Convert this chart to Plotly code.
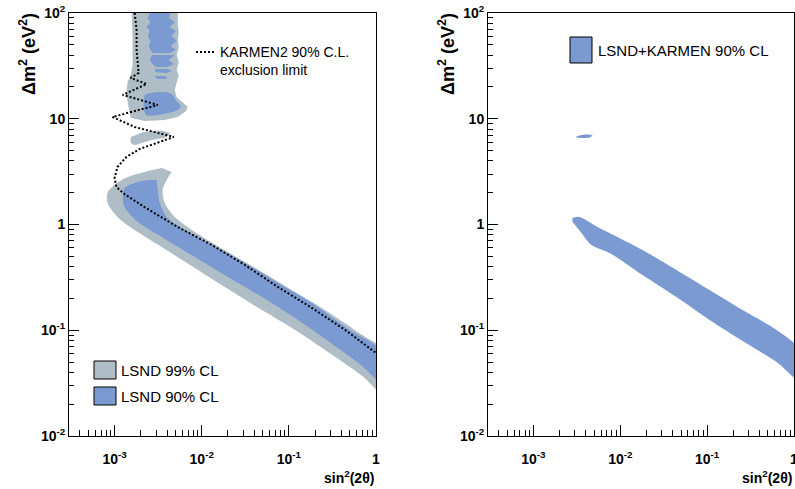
import plotly.graph_objects as go

W, H = 795, 489
GRAY = "#AFBDC7"
BLUE = "#7A9AD1"
FONT = "Liberation Sans"

# ---------------- LSND 99% CL allowed region (sin^2(2θ), Δm^2 [eV^2]) ----------------
lsnd99_upper_sin2 = [1.57e-3, 1.61e-3, 1.61e-3, 1.53e-3, 1.41e-3, 1.37e-3, 1.41e-3, 1.49e-3, 1.53e-3,
                     2.21e-3, 3.76e-3, 5.31e-3, 6.56e-3, 6.92e-3, 6.06e-3, 5.16e-3, 4.90e-3, 5.16e-3,
                     5.45e-3, 5.16e-3, 5.45e-3, 5.16e-3, 5.45e-3, 5.31e-3, 5.45e-3, 5.31e-3, 5.31e-3]
lsnd99_upper_dm2 = [100, 55.6, 32.2, 25.9, 22.3, 17.9, 14.4, 11.6, 10.2,
                    9.53, 9.73, 10.4, 11.8, 12.9, 14.4, 16.1, 18.7, 22.3,
                    25.9, 28.9, 34.4, 40.1, 47.6, 55.6, 66.1, 77.1, 100]

lsnd99_island_sin2 = [1.53e-3, 2.21e-3, 3.48e-3, 4.30e-3, 3.96e-3, 2.67e-3, 2.05e-3, 1.70e-3, 1.53e-3]
lsnd99_island_dm2 = [6.72, 7.50, 7.66, 7.33, 6.72, 6.29, 5.90, 5.65, 5.90]

lsnd99_main_sin2 = [4.53e-3, 3.96e-3, 3.56e-3, 3.76e-3, 4.90e-3, 8.34e-3, 2.00e-2, 4.92e-2, 0.118, 0.282,
                    0.695, 1.25, 1.25, 0.695, 0.282, 0.118, 4.92e-2, 2.00e-2, 8.34e-3, 3.48e-3,
                    1.70e-3, 1.08e-3, 8.30e-4, 8.30e-4, 1.00e-3, 1.41e-3, 2.21e-3, 3.48e-3]
lsnd99_main_dm2 = [3.14, 2.64, 2.12, 1.60, 1.18, 0.849, 0.549, 0.356, 0.230, 0.149,
                   0.0901, 0.0636, 0.0243, 0.0369, 0.0622, 0.1005, 0.155, 0.245, 0.388, 0.612,
                   0.887, 1.18, 1.60, 1.99, 2.37, 2.81, 3.14, 3.42]

# ---------------- LSND 90% CL allowed region ----------------
lsnd90_strip1_sin2 = [2.53e-3, 2.40e-3, 2.59e-3, 2.33e-3, 2.53e-3, 2.40e-3, 2.59e-3, 2.46e-3, 2.59e-3, 2.74e-3,
                      4.30e-3, 5.04e-3, 4.41e-3, 5.16e-3, 4.53e-3, 5.04e-3, 4.30e-3, 4.90e-3, 4.18e-3, 4.41e-3]
lsnd90_strip1_dm2 = [100, 89.7, 82.2, 73.8, 67.6, 60.6, 54.3, 48.8, 44.7, 41.9,
                     41.9, 44.7, 48.8, 54.3, 60.6, 67.6, 73.8, 82.2, 89.7, 100]

lsnd90_strip2_sin2 = [2.67e-3, 2.53e-3, 2.74e-3, 2.96e-3, 4.07e-3, 4.78e-3, 4.18e-3, 4.90e-3]
lsnd90_strip2_dm2 = [40.1, 35.9, 33.0, 30.8, 30.8, 33.0, 35.9, 40.1]

lsnd90_strip3_sin2 = [2.88e-3, 2.96e-3, 3.96e-3, 4.53e-3, 4.07e-3]
lsnd90_strip3_dm2 = [29.5, 27.7, 27.1, 28.3, 29.5]

lsnd90_strip4_sin2 = [2.88e-3, 3.13e-3, 3.86e-3, 4.07e-3, 3.66e-3]
lsnd90_strip4_dm2 = [25.4, 23.7, 23.7, 24.8, 25.4]

lsnd90_blob_sin2 = [2.21e-3, 2.53e-3, 3.76e-3, 4.53e-3, 5.04e-3, 5.75e-3, 5.31e-3, 4.07e-3, 2.88e-3, 2.33e-3, 2.16e-3, 2.16e-3]
lsnd90_blob_dm2 = [16.8, 17.5, 17.9, 17.1, 15.0, 13.2, 12.1, 11.3, 10.8, 10.8, 12.6, 15.0]

lsnd90_main_sin2 = [3.04e-3, 3.13e-3, 3.30e-3, 4.07e-3, 6.40e-3, 1.31e-2, 3.13e-2, 7.52e-2, 0.185, 0.444,
                    1.25, 1.25, 0.695, 0.282, 0.118, 4.92e-2, 2.00e-2, 8.34e-3, 3.48e-3, 1.84e-3,
                    1.30e-3, 1.24e-3, 1.30e-3, 1.84e-3, 2.53e-3]
lsnd90_main_dm2 = [2.64, 2.12, 1.60, 1.15, 0.887, 0.640, 0.433, 0.280, 0.181, 0.1074,
                   0.0598, 0.0301, 0.0459, 0.0791, 0.1306, 0.206, 0.319, 0.493, 0.762, 1.06,
                   1.46, 1.82, 2.21, 2.52, 2.64]

# ---------------- KARMEN2 90% C.L. exclusion limit ----------------
karmen_sin2 = [1.70e-3, 1.79e-3, 1.79e-3, 1.84e-3, 1.89e-3, 1.53e-3, 2.33e-3, 1.24e-3, 3.13e-3, 9.48e-4,
               1.70e-3, 4.78e-3, 3.30e-3, 1.94e-3, 1.37e-3, 1.08e-3, 1.00e-3, 1.05e-3, 1.30e-3, 2.21e-3,
               5.31e-3, 1.31e-2, 3.13e-2, 7.52e-2, 0.185, 0.444, 1.0]
karmen_dm2 = [100, 69.0, 44.7, 30.9, 27.1, 24.3, 21.3, 16.8, 13.5, 10.4,
              8.36, 6.72, 6.03, 5.18, 4.35, 3.50, 2.75, 2.26, 1.94, 1.46,
              0.946, 0.640, 0.414, 0.256, 0.162, 0.1005, 0.0610]

# ---------------- LSND+KARMEN combined 90% CL ----------------
combo_island_sin2 = [3.05e-3, 3.39e-3, 4.19e-3, 4.79e-3, 4.42e-3, 3.39e-3]
combo_island_dm2 = [6.72, 6.95, 7.10, 6.95, 6.65, 6.58]

combo_band_sin2 = [2.81e-3, 3.39e-3, 5.75e-3, 7.52e-3, 1.80e-2, 4.44e-2, 0.1067, 0.256, 0.631, 1.25,
                   1.25, 0.631, 0.256, 0.1067, 4.44e-2, 1.80e-2, 7.52e-3, 4.65e-3, 3.57e-3, 2.81e-3]
combo_band_dm2 = [1.15, 1.18, 0.927, 0.832, 0.574, 0.372, 0.240, 0.155, 0.1005, 0.0621,
                  0.0318, 0.0501, 0.0791, 0.125, 0.206, 0.333, 0.538, 0.640, 0.832, 1.06]

# ---------------- axis ticks ----------------
x_tick_vals = [1e-3, 1e-2, 1e-1, 1]
x_tick_text = ["10<sup>-3</sup>", "10<sup>-2</sup>", "10<sup>-1</sup>", "1"]
y_tick_vals = [1e-2, 1e-1, 1, 10, 100]
y_tick_text = ["10<sup>-2</sup>", "10<sup>-1</sup>", "1", "10", "10<sup>2</sup>"]
x_minor = [k * 10.0 ** e for e in (-4, -3, -2, -1) for k in range(2, 10) if k * 10.0 ** e > 3.05e-4]
y_minor = [k * 10.0 ** e for e in (-2, -1, 0, 1) for k in range(2, 10)]

fig = go.Figure()


def region(xs, ys, color, xa="x", ya="y", smooth=False):
    fig.add_trace(go.Scatter(x=xs, y=ys, mode="lines", fill="toself", fillcolor=color,
                             line=dict(width=0, color=color, shape="spline" if smooth else "linear",
                                       smoothing=0.8),
                             hoverinfo="skip", showlegend=False, xaxis=xa, yaxis=ya))


# left panel
region(lsnd99_upper_sin2, lsnd99_upper_dm2, GRAY)
region(lsnd99_island_sin2, lsnd99_island_dm2, GRAY, smooth=True)
region(lsnd99_main_sin2, lsnd99_main_dm2, GRAY, smooth=True)
for xs, ys in [(lsnd90_strip1_sin2, lsnd90_strip1_dm2), (lsnd90_strip2_sin2, lsnd90_strip2_dm2),
               (lsnd90_strip3_sin2, lsnd90_strip3_dm2), (lsnd90_strip4_sin2, lsnd90_strip4_dm2)]:
    region(xs, ys, BLUE)
region(lsnd90_blob_sin2, lsnd90_blob_dm2, BLUE, smooth=True)
region(lsnd90_main_sin2, lsnd90_main_dm2, BLUE, smooth=True)
fig.add_trace(go.Scatter(x=karmen_sin2, y=karmen_dm2, mode="lines",
                         line=dict(color="black", width=2, dash="2px,2px"),
                         hoverinfo="skip", showlegend=False))

# right panel
region(combo_island_sin2, combo_island_dm2, BLUE, "x2", "y2", smooth=True)
region(combo_band_sin2, combo_band_dm2, BLUE, "x2", "y2", smooth=True)

tickfont = dict(family=FONT, size=14, color="black", weight="bold")
common_x = dict(type="log", range=[-3.523, 0], tickmode="array", tickvals=x_tick_vals, ticktext=x_tick_text,
                ticks="inside", ticklen=11, tickwidth=1, tickcolor="black", showgrid=False, zeroline=False,
                showline=True, linecolor="black", linewidth=1, mirror=True, tickfont=tickfont,
                automargin=False, ticklabelstandoff=10, ticklabeloverflow="allow",
                minor=dict(tickmode="array", tickvals=x_minor, ticks="inside", ticklen=6,
                           tickwidth=1, tickcolor="black", showgrid=False))
common_y = dict(type="log", range=[-2, 2], tickmode="array", tickvals=y_tick_vals, ticktext=y_tick_text,
                ticks="inside", ticklen=10, tickwidth=1, tickcolor="black", showgrid=False, zeroline=False,
                showline=True, linecolor="black", linewidth=1, mirror=True, tickfont=tickfont,
                automargin=False, ticklabeloverflow="allow",
                minor=dict(tickmode="array", tickvals=y_minor, ticks="inside", ticklen=5,
                           tickwidth=1, tickcolor="black", showgrid=False),
                domain=[1 - 436 / H, 1 - 13 / H])

fig.update_layout(
    width=W, height=H, margin=dict(l=0, r=0, t=0, b=0, pad=0, autoexpand=False),
    paper_bgcolor="white", plot_bgcolor="white",
    xaxis=dict(common_x, domain=[69 / W, 376 / W], anchor="y"),
    yaxis=dict(common_y, anchor="x"),
    xaxis2=dict(common_x, domain=[488 / W, 794 / W], anchor="y2"),
    yaxis2=dict(common_y, anchor="x2"),
)


def px(x):
    return x / W


def py(y):
    return 1 - y / H


ann = []
title_font = dict(family=FONT, size=18, color="black", weight="bold")
xt_font = dict(family=FONT, size=14, color="black", weight="bold")
for xc, xr in [(27, 376), (446, 794)]:
    ann.append(dict(text="Δm<sup>2</sup> (eV<sup>2</sup>)", textangle=-90, x=px(xc), y=py(54),
                    xref="paper", yref="paper", xanchor="center", yanchor="middle",
                    showarrow=False, font=title_font))
    ann.append(dict(text="sin<sup>2</sup>(2θ)", x=px(xr), y=py(477), xref="paper", yref="paper",
                    xanchor="right", yanchor="middle", showarrow=False, font=xt_font))

for text, x0, y0, size in [("KARMEN2 90% C.L.", 218, 52, 14), ("exclusion limit", 218, 70, 14),
                           ("LSND 99% CL", 119, 370, 15), ("LSND 90% CL", 119, 396, 15),
                           ("LSND+KARMEN 90% CL", 596, 50, 15)]:
    ann.append(dict(text=text, x=px(x0), y=py(y0), xref="paper", yref="paper",
                    xanchor="left", yanchor="middle", showarrow=False,
                    font=dict(family=FONT, size=size, color="black")))

shapes = [
    dict(type="line", xref="paper", yref="paper", x0=px(196), x1=px(215), y0=py(52), y1=py(52),
         line=dict(color="black", width=2, dash="2px,2px")),
    dict(type="rect", xref="paper", yref="paper", x0=px(94), x1=px(116), y0=py(361), y1=py(379),
         fillcolor=GRAY, line=dict(color="black", width=1)),
    dict(type="rect", xref="paper", yref="paper", x0=px(94), x1=px(116), y0=py(387), y1=py(405),
         fillcolor=BLUE, line=dict(color="black", width=1)),
    dict(type="rect", xref="paper", yref="paper", x0=px(570), x1=px(592), y0=py(37), y1=py(63),
         fillcolor=BLUE, line=dict(color="black", width=1)),
]

fig.update_layout(annotations=ann, shapes=shapes)
fig.write_html("out.html")
